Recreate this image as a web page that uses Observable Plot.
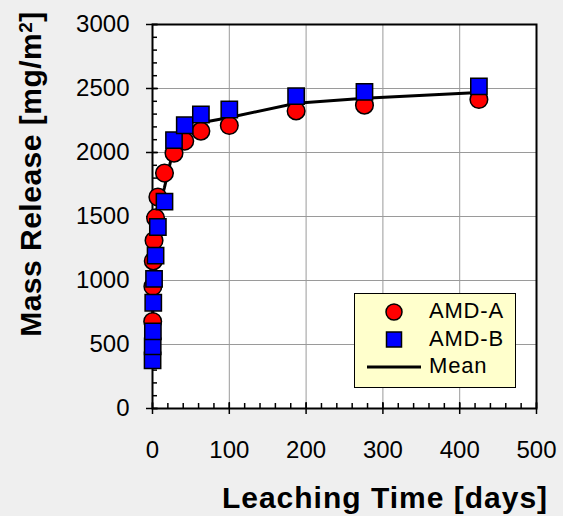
<!DOCTYPE html>
<html>
<head>
<meta charset="utf-8">
<script src="https://cdn.jsdelivr.net/npm/d3@7"></script>
<script src="https://cdn.jsdelivr.net/npm/@observablehq/plot@0.6"></script>
<style>
  html, body { margin: 0; padding: 0; background: #efefef; }
  #wrap { position: relative; width: 563px; height: 516px; font-family: "Liberation Sans", Arial, sans-serif; }
</style>
</head>
<body>
<div id="wrap"></div>
<script>
// Data
const timesA = [0.25, 0.5, 1, 2, 4, 7, 15.6, 28, 42, 63, 100, 187, 276, 425];
const valuesA = [680, 953, 1153, 1312, 1489, 1652, 1839, 1995, 2089, 2167, 2211, 2325, 2370, 2414];
const timesB = [0.1, 0.25, 0.5, 1, 2, 4, 7, 15.6, 28, 42, 63, 100, 187, 276, 425];
const valuesB = [376, 486, 603, 826, 1013, 1195, 1418, 1616, 2097, 2213, 2297, 2336, 2440, 2473, 2517];
const timesMean = [0.25, 0.5, 1, 2, 4, 7, 15.6, 28, 42, 63, 100, 187, 276, 425];
const valuesMean = [583, 778, 990, 1163, 1342, 1535, 1728, 2046, 2151, 2232, 2273, 2385, 2424, 2468];

const xMajor = [0, 100, 200, 300, 400, 500];
const xMinor = d3.range(0, 501, 20);
const yMajor = [0, 500, 1000, 1500, 2000, 2500, 3000];
const yMinor = d3.range(0, 3001, 100);
const legendLabels = ["AMD-A", "AMD-B", "Mean"];

const seriesA = timesA.map((t, i) => ({t, v: valuesA[i]}));
const seriesB = timesB.map((t, i) => ({t, v: valuesB[i]}));
const seriesMean = timesMean.map((t, i) => ({t, v: valuesMean[i]}));

const chart = Plot.plot({
  width: 563,
  height: 516,
  marginLeft: 152,
  marginRight: 27,
  marginTop: 24,
  marginBottom: 108,
  style: {background: "transparent", fontFamily: "'Liberation Sans', Arial, sans-serif", fontSize: "24px", color: "#000", overflow: "visible"},
  x: {domain: [0, 500]},
  y: {domain: [0, 3000]},
  marks: [
    Plot.frame({fill: "white", stroke: null}),
    Plot.gridX(xMajor.slice(1, -1), {stroke: "#9a9a9a", strokeOpacity: 1, strokeWidth: 1}),
    Plot.gridY(yMajor.slice(1, -1), {stroke: "#9a9a9a", strokeOpacity: 1, strokeWidth: 1}),
    Plot.frame({stroke: "#000", strokeWidth: 2}),
    // minor ticks (inside)
    Plot.axisX({ticks: xMinor, tickSize: 5, dy: -5, text: null, strokeWidth: 1.5, label: null}),
    Plot.axisY({ticks: yMinor, tickSize: 5, dx: 5, text: null, strokeWidth: 1.5, label: null}),
    // major ticks (crossing)
    Plot.axisX({ticks: xMajor, tickSize: 12, dy: -6, text: null, strokeWidth: 1.5, label: null}),
    Plot.axisY({ticks: yMajor, tickSize: 12, dx: 6, text: null, strokeWidth: 1.5, label: null}),
    // labels
    Plot.axisX({ticks: xMajor, tickSize: 0, tickPadding: 32, fontSize: 24, tickFormat: d3.format("d"), label: null}),
    Plot.axisY({ticks: yMajor, tickSize: 0, tickPadding: 23, fontSize: 24, tickFormat: d3.format("d"), label: null}),
    Plot.line(seriesMean, {x: "t", y: "v", stroke: "#000", strokeWidth: 3}),
    Plot.dot(seriesA, {x: "t", y: "v", r: 8.8, fill: "#ff0000", stroke: "#000", strokeWidth: 1.5, symbol: "circle"}),
    Plot.dot(seriesB, {x: "t", y: "v", r: 9.2, fill: "#0000ff", stroke: "#000", strokeWidth: 1.5, symbol: "square"})
  ]
});

const svg = d3.select(chart);
svg.append("text")
  .attr("x", 385).attr("y", 508)
  .attr("text-anchor", "middle")
  .style("font-size", "30px").style("font-weight", "bold").style("letter-spacing", "1px")
  .text("Leaching Time [days]");
const yt = svg.append("text")
  .attr("transform", "translate(41,174) rotate(-90)")
  .attr("text-anchor", "middle")
  .style("font-size", "30px").style("font-weight", "bold").style("letter-spacing", "0.5px");
yt.append("tspan").text("Mass Release [mg/m");
yt.append("tspan").attr("dy", "-0.45em").style("font-size", "19px").text("2");
yt.append("tspan").attr("dy", "0.3em").text("]");

// Legend (box with symbols and labels)
const lg = svg.append("g").attr("class", "legend").attr("text-anchor", "start");
lg.append("rect").attr("x", 354.5).attr("y", 293.5).attr("width", 161).attr("height", 94)
  .attr("fill", "#ffffcc").attr("stroke", "#000").attr("stroke-width", 1);
lg.append("circle").attr("cx", 394).attr("cy", 312).attr("r", 8)
  .attr("fill", "#ff0000").attr("stroke", "#000").attr("stroke-width", 1.5);
lg.append("rect").attr("x", 386.5).attr("y", 332).attr("width", 15).attr("height", 15)
  .attr("fill", "#0000ff").attr("stroke", "#000").attr("stroke-width", 1.5);
lg.append("line").attr("x1", 367).attr("x2", 421).attr("y1", 367).attr("y2", 367)
  .attr("stroke", "#000").attr("stroke-width", 3);
legendLabels.forEach((s, i) => {
  lg.append("text").attr("x", 429).attr("y", 318 + i * 27.5)
    .attr("text-anchor", "start")
    .style("font-size", "22px").style("letter-spacing", "0.8px").text(s);
});

document.getElementById("wrap").appendChild(chart);
</script>
</body>
</html>
